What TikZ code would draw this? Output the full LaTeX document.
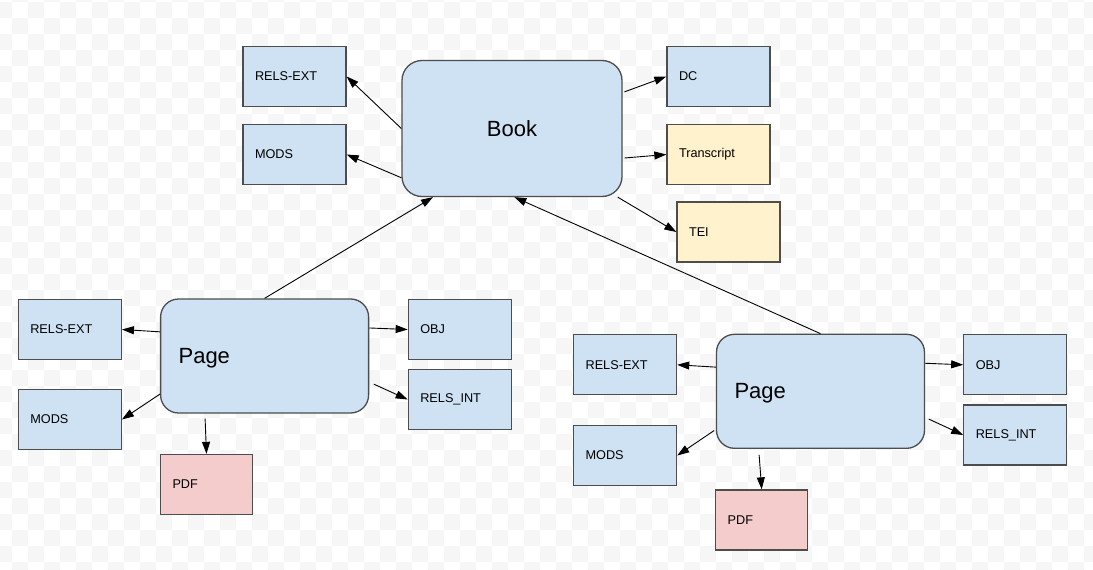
\documentclass[tikz,border=0pt]{standalone}
\usepackage{fontspec}
\setmainfont{Liberation Sans}
\usetikzlibrary{arrows.meta}
\definecolor{checker}{RGB}{246,246,246}
\definecolor{dsblue}{HTML}{CFE2F3}
\definecolor{dsyellow}{HTML}{FFF2CC}
\definecolor{dsred}{HTML}{F4CCCC}
\definecolor{edgegray}{HTML}{4D4D4D}

\begin{document}
\begin{tikzpicture}[x=1pt, y=-1pt,
  ds/.style={draw=edgegray, line width=1.3pt, fill=dsblue, minimum height=60pt,
    inner xsep=12pt, inner ysep=0pt, text width=79pt, align=left,
    font=\fontsize{12.7}{15}\selectfont},
  pdfds/.style={ds, fill=dsred, text width=68pt},
  textds/.style={ds, fill=dsyellow},
  obj/.style={draw=edgegray, line width=1.3pt, fill=dsblue, rounded corners=18pt,
    text depth=0pt, font=\fontsize{22}{26}\selectfont},
  link/.style={line width=0.9pt, -{Triangle[length=12pt, width=8pt]}}]
\useasboundingbox (0,0) rectangle (1093,570);

% background
\begin{scope}
\clip (0,0) rectangle (1093,570);
\fill[white] (0,0) rectangle (1093,570);
\foreach \x in {-4,28,...,1084}
  \foreach \y in {2,34,...,562}
    \fill[checker] (\x,\y) rectangle +(16,16);
\foreach \x in {12,44,...,1100}
  \foreach \y in {-14,18,...,562}
    \fill[checker] (\x,\y) rectangle +(16,16);
\end{scope}

% book object
\node[obj, minimum width=220pt, minimum height=136pt, rounded corners=20pt]
  (book) at (512,128.5) {Book};
\node[ds]     (bRels)  at (294.5, 76.5)  {RELS-EXT};
\node[ds]     (bMods)  at (294.5, 154.5) {MODS};
\node[ds]     (bDC)    at (718.5, 76.5)  {DC};
\node[textds] (bTrans) at (718.5, 154.5) {Transcript};
\node[textds] (bTEI)   at (728.5, 232)   {TEI};

\draw[link] (book.west) -- (bRels.east);
\draw[link] (book.204)  -- (bMods.east);
\draw[link, shorten <=2pt] (book.18)  -- (bDC.west);
\draw[link, shorten <=2pt] (book.-15) -- (bTrans.west);
\draw[link] (book.-33)  -- (bTEI.west);

% first page
\node[obj, minimum height=114pt, inner xsep=18pt, text width=172pt, align=left]
  (pageA) at (264.6, 356) {Page};
\node[ds]    (aRels)    at (69.8, 329.5)  {RELS-EXT};
\node[ds]    (aMods)    at (69.8, 419.5)  {MODS};
\node[ds]    (aObj)     at (459.8, 329.5) {OBJ};
\node[ds]    (aRelsInt) at (459.8, 399.5) {RELS\_INT};
\node[pdfds] (aPdf)     at (206.5, 484.5) {PDF};

\draw[link] (pageA.167) -- (aRels.east);
\draw[link] (pageA.200) -- (aMods.east);
\draw[link] (pageA.15)  -- (aObj.west);
\draw[link, shorten <=5pt] (pageA.-14)  -- (aRelsInt.west);
\draw[link, shorten <=5pt] (pageA.-136) -- (aPdf.north);

% second page
\node[obj, minimum height=114pt, inner xsep=18pt, text width=172pt, align=left]
  (pageB) at (820.5, 391.3) {Page};
\node[ds]    (cRels)    at (625.1, 364.8)  {RELS-EXT};
\node[ds]    (cMods)    at (625.1, 455.5)  {MODS};
\node[ds]    (cObj)     at (1015.3, 364.8) {OBJ};
\node[ds]    (cRelsInt) at (1015.3, 435)   {RELS\_INT};
\node[pdfds] (cPdf)     at (761.7, 520)    {PDF};

\draw[link] (pageB.167) -- (cRels.east);
\draw[link, shorten <=2pt] (pageB.200) -- (cMods.east);
\draw[link] (pageB.15)  -- (cObj.west);
\draw[link, shorten <=4pt] (pageB.-14)  -- (cRelsInt.west);
\draw[link, shorten <=6pt] (pageB.-137) -- (cPdf.north);

% pages to book
\draw[link] (pageA.north) -- (book.221);
\draw[link] (pageB.north) -- (book.-88);
\end{tikzpicture}
\end{document}
